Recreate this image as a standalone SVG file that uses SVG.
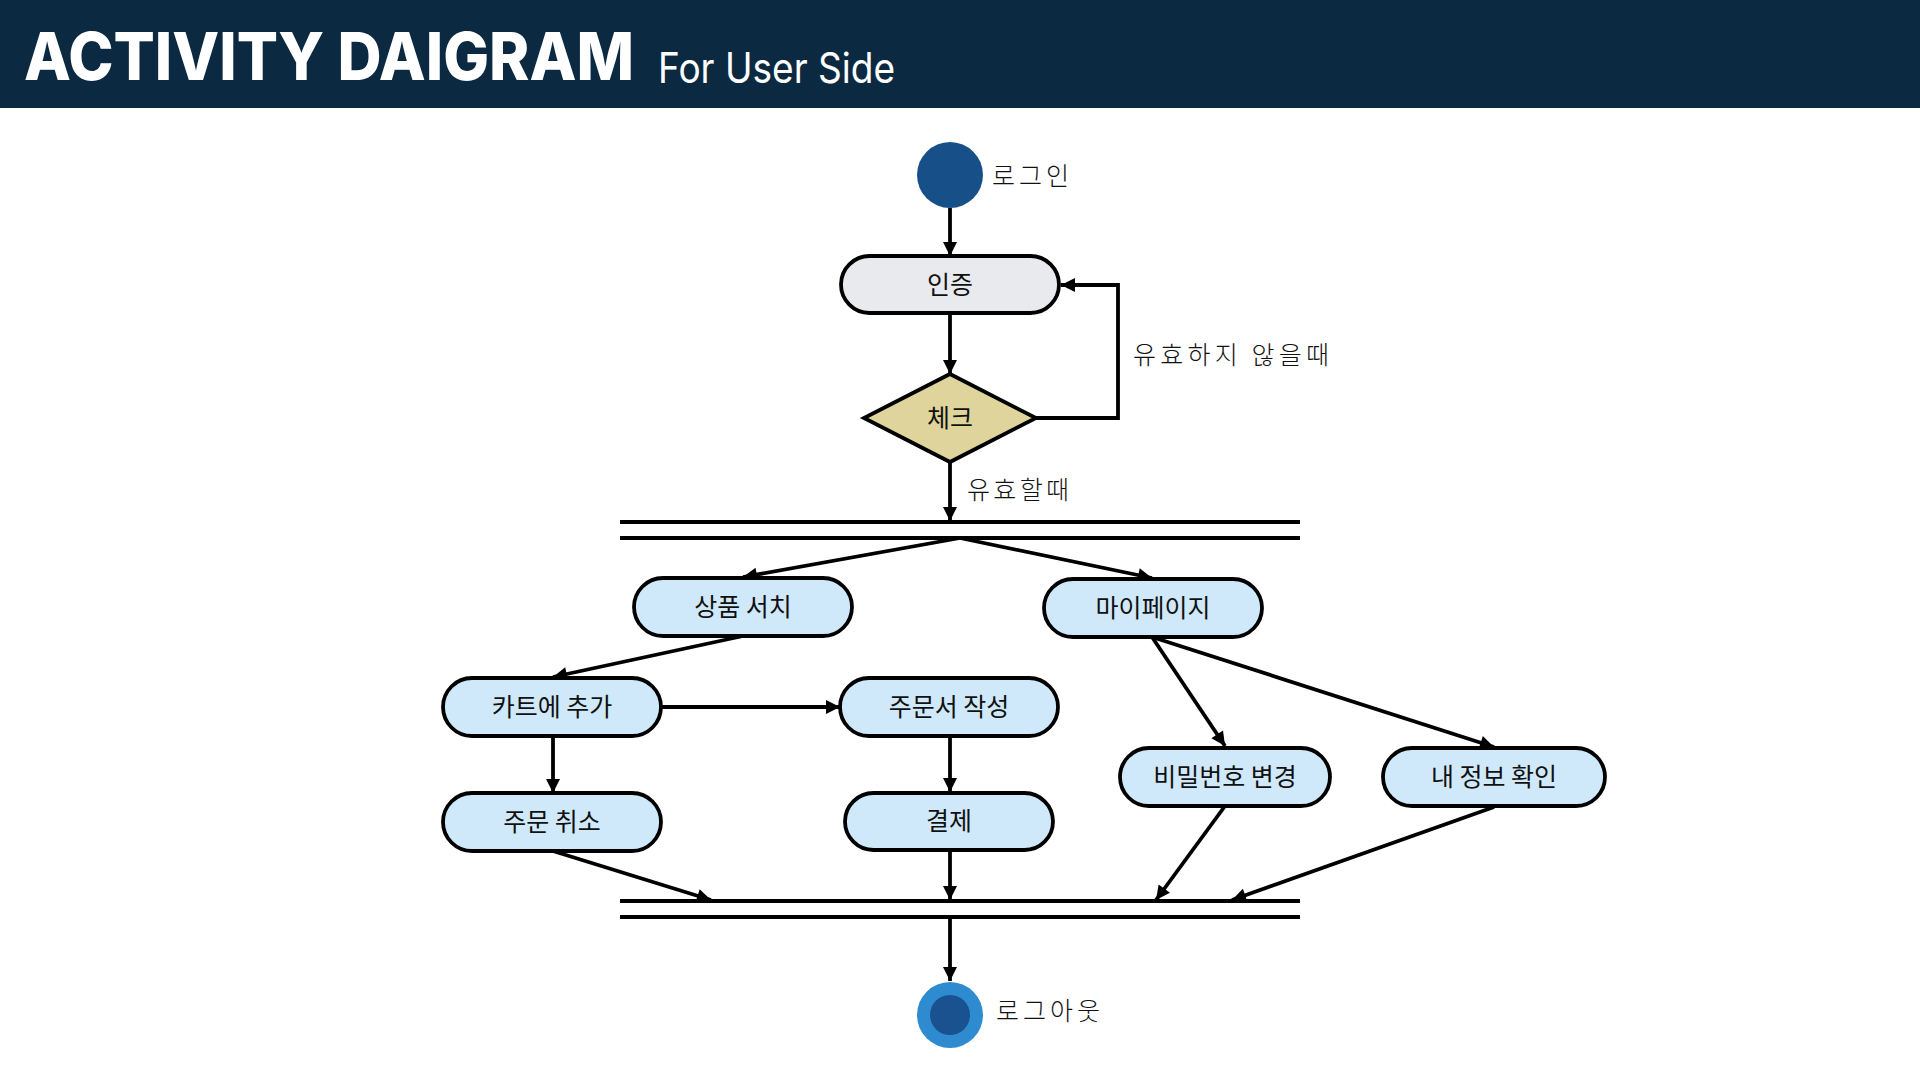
<svg xmlns="http://www.w3.org/2000/svg" width="1920" height="1080" viewBox="0 0 1920 1080">
<defs>
<marker id="arr" markerUnits="userSpaceOnUse" markerWidth="16" markerHeight="16" viewBox="0 0 16 16" refX="15" refY="8" orient="auto">
<path d="M1,1 L15,8 L1,15 z" fill="#000"/>
</marker>
<style>
.edge{fill:none;stroke:#000;stroke-width:3.8;marker-end:url(#arr)}
.bar{stroke:#000;stroke-width:3.8}
.act{fill:#d0e9fa;stroke:#000;stroke-width:3.8}
.nt{font-family:"Noto Sans CJK KR","Noto Sans",sans-serif;font-size:25px;fill:#111;text-anchor:middle;dominant-baseline:central}
.lbl{font-family:"Noto Sans CJK KR","Noto Sans",sans-serif;font-weight:300;font-size:25px;fill:#111;dominant-baseline:central}
</style>
</defs>
<rect x="0" y="0" width="1920" height="1080" fill="#fff"/>
<g id="header">
<rect x="0" y="0" width="1920" height="108" fill="#0b2a42"/>
<text x="24" y="80" font-family="Inter,'Liberation Sans',sans-serif" font-weight="800" font-size="66" fill="#fff" textLength="610" lengthAdjust="spacingAndGlyphs">ACTIVITY DAIGRAM</text>
<text x="658" y="83" font-family="Inter,'Liberation Sans',sans-serif" font-weight="400" font-size="42" fill="#fff" textLength="237" lengthAdjust="spacingAndGlyphs">For User Side</text>
</g>
<g id="connectors">
<line class="edge" x1="950" y1="208" x2="950" y2="256"/>
<line class="edge" x1="950" y1="313" x2="950" y2="374"/>
<polyline class="edge" points="1036,418 1118,418 1118,285 1061,285"/>
<line class="edge" x1="950" y1="462" x2="950" y2="521"/>
<line class="edge" x1="960" y1="538" x2="743" y2="577"/>
<line class="edge" x1="960" y1="538" x2="1152" y2="578"/>
<line class="edge" x1="743" y1="636" x2="553" y2="677"/>
<line class="edge" x1="661" y1="707" x2="840" y2="707"/>
<line class="edge" x1="553" y1="736" x2="553" y2="793"/>
<line class="edge" x1="950" y1="736" x2="950" y2="792"/>
<line class="edge" x1="1152" y1="637" x2="1225" y2="746"/>
<line class="edge" x1="1152" y1="637" x2="1494" y2="747"/>
<line class="edge" x1="553" y1="851" x2="711" y2="900"/>
<line class="edge" x1="950" y1="850" x2="950" y2="900"/>
<line class="edge" x1="1225" y1="806" x2="1156" y2="900"/>
<line class="edge" x1="1494" y1="807" x2="1232" y2="900"/>
<line class="edge" x1="950" y1="917" x2="950" y2="981"/>
<text class="lbl" x="967" y="488" textLength="102" lengthAdjust="spacing">유효할때</text>
<text class="lbl" x="1133" y="353" textLength="196" lengthAdjust="spacing">유효하지 않을때</text>
</g>
<g id="start">
<circle cx="950" cy="175" r="33" fill="#175089"/>
<text class="lbl" x="992" y="174" textLength="77" lengthAdjust="spacing">로그인</text>
</g>
<g id="auth">
<rect x="841" y="256" width="218" height="57" rx="28.5" fill="#e9eaee" stroke="#000" stroke-width="3.8"/>
<text class="nt" x="950" y="283">인증</text>
</g>
<g id="check">
<polygon points="950,374 1036,418 950,462 864,418" fill="#ded49c" stroke="#000" stroke-width="3.8"/>
<text class="nt" x="950" y="416">체크</text>
</g>
<g id="fork">
<line class="bar" x1="620" y1="522" x2="1300" y2="522"/>
<line class="bar" x1="620" y1="538" x2="1300" y2="538"/>
</g>
<g id="search">
<rect class="act" x="634" y="578" width="218" height="58" rx="29"/>
<text class="nt" x="743" y="605">상품 서치</text>
</g>
<g id="mypage">
<rect class="act" x="1044" y="579" width="218" height="58" rx="29"/>
<text class="nt" x="1153" y="606">마이페이지</text>
</g>
<g id="cart">
<rect class="act" x="443" y="678" width="218" height="58" rx="29"/>
<text class="nt" x="552" y="705">카트에 추가</text>
</g>
<g id="order">
<rect class="act" x="840" y="678" width="218" height="58" rx="29"/>
<text class="nt" x="949" y="705">주문서 작성</text>
</g>
<g id="cancel">
<rect class="act" x="443" y="793" width="218" height="58" rx="29"/>
<text class="nt" x="552" y="820">주문 취소</text>
</g>
<g id="pay">
<rect class="act" x="845" y="793" width="208" height="57" rx="28.5"/>
<text class="nt" x="949" y="819">결제</text>
</g>
<g id="password">
<rect class="act" x="1120" y="748" width="210" height="58" rx="29"/>
<text class="nt" x="1225" y="775">비밀번호 변경</text>
</g>
<g id="myinfo">
<rect class="act" x="1383" y="748" width="222" height="58" rx="29"/>
<text class="nt" x="1494" y="775">내 정보 확인</text>
</g>
<g id="join">
<line class="bar" x1="620" y1="901" x2="1300" y2="901"/>
<line class="bar" x1="620" y1="917" x2="1300" y2="917"/>
</g>
<g id="end">
<circle cx="950" cy="1015" r="33" fill="#2e8bd0"/>
<circle cx="950" cy="1015" r="20" fill="#1a5290"/>
<text class="lbl" x="996" y="1009" textLength="104" lengthAdjust="spacing">로그아웃</text>
</g>
</svg>
